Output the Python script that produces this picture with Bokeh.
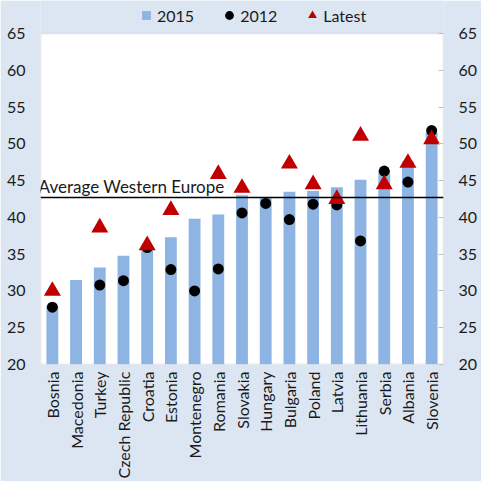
import math
from bokeh.plotting import figure
from bokeh.models import (FactorRange, Range1d, LinearAxis, Span, Label, Legend,
                          LegendItem, BoxAnnotation)
from bokeh.embed import file_html
from bokeh.resources import INLINE

countries = ["Bosnia", "Macedonia", "Turkey", "Czech Republic", "Croatia", "Estonia",
             "Montenegro", "Romania", "Slovakia", "Hungary", "Bulgaria", "Poland",
             "Latvia", "Lithuania", "Serbia", "Albania", "Slovenia"]
v2015 = [28.0, 31.5, 33.2, 34.8, 36.1, 37.3, 39.8, 40.4, 43.0, 42.7, 43.5, 43.6,
         44.1, 45.1, 46.4, 47.6, 51.5]
v2012 = [27.8, None, 30.8, 31.4, 35.9, 32.9, 30.0, 33.0, 40.6, 41.9, 39.7, 41.8,
         41.7, 36.8, 46.3, 44.8, 51.8]
latest = [30.0, None, 38.6, None, 36.2, 41.0, None, 45.9, 44.0, None, 47.3, 44.5,
          42.5, 51.1, 44.5, 47.4, 50.6]
avg_western_europe = 42.7
avg_label = "Average Western Europe"
y_ticks = [20, 25, 30, 35, 40, 45, 50, 55, 60, 65]
y_min, y_max = 20, 65

FONT = "Lato"
TXT = "#1a1a1a"
BG = "#dce6f2"
BAR = "#8db4e2"
RED = "#c00000"

c12 = [c for c, v in zip(countries, v2012) if v is not None]
y12 = [v for v in v2012 if v is not None]
cl = [c for c, v in zip(countries, latest) if v is not None]
yl = [v for v in latest if v is not None]

# frame extends above the value axis to hold the legend (33 px at ~7.36 px/unit)
p = figure(x_range=FactorRange(factors=countries, range_padding=0),
           y_range=Range1d(y_min, y_max + 33 / 7.356), width=481, height=481,
           output_backend="svg", toolbar_location=None,
           min_border_left=40, min_border_right=38, min_border_top=0,
           min_border_bottom=117)
p.background_fill_color = BG
p.border_fill_color = BG
p.outline_line_color = None
p.grid.visible = False

# white plotting area with grey outline, 20..65
p.add_layout(BoxAnnotation(bottom=y_min, top=y_max, fill_color="white",
                           fill_alpha=1, line_color="#bfbfbf", line_width=2,
                           level="underlay"))

bars = p.vbar(x=countries, top=v2015, bottom=y_min, width=0.5, fill_color=BAR,
              line_color=None)
dots = p.scatter(x=c12, y=y12, marker="circle", size=11, fill_color="black",
                 line_color=None)
tris = p.scatter(x=cl, y=yl, marker="triangle", size=17, fill_color=RED,
                 line_color=None)
# legend-only swatch for the bars (draws nothing: y is NaN)
sq = p.scatter(x=countries[:1], y=[float("nan")], marker="square",
               fill_color=BAR, line_color=None)

p.add_layout(Span(location=avg_western_europe, dimension="width",
                  line_color="black", line_width=1.5))
p.add_layout(Label(x=-0.08, y=avg_western_europe, text=avg_label, y_offset=1,
                   text_font=FONT, text_font_size="17px", text_color=TXT,
                   text_baseline="bottom"))

# axes
yl_axis = p.yaxis[0]
yl_axis.ticker = y_ticks
yl_axis.major_tick_in = 0
yl_axis.major_tick_out = 0
yl_axis.minor_tick_line_color = None
yl_axis.axis_line_color = None
yl_axis.major_label_standoff = 15
yl_axis.major_label_text_font = FONT
yl_axis.major_label_text_font_size = "16px"
yl_axis.major_label_text_color = TXT

ry = LinearAxis(ticker=y_ticks)
ry.major_tick_in = 5
ry.major_tick_out = 0
ry.major_tick_line_color = "#bfbfbf"
ry.minor_tick_line_color = None
ry.axis_line_color = None
ry.major_label_standoff = 15
ry.major_label_text_font = FONT
ry.major_label_text_font_size = "16px"
ry.major_label_text_color = TXT
p.add_layout(ry, "right")

xa = p.xaxis[0]
xa.major_label_orientation = math.pi / 2
xa.major_tick_in = 0
xa.major_tick_out = 0
xa.axis_line_color = None
xa.major_label_standoff = 7
xa.major_label_text_font = FONT
xa.major_label_text_font_size = "16px"
xa.major_label_text_color = TXT

legend = Legend(items=[LegendItem(label="2015", renderers=[sq]),
                       LegendItem(label="2012", renderers=[dots]),
                       LegendItem(label="Latest", renderers=[tris])],
                location=(95, 338), orientation="horizontal",
                glyph_width=22, glyph_height=22, label_standoff=0, spacing=24,
                padding=0, margin=0, border_line_color=None,
                background_fill_alpha=0, label_text_font=FONT,
                label_text_font_size="16px", label_text_color=TXT,
                label_height=18)
p.add_layout(legend)

open("out.html", "w").write(file_html(p, INLINE))
